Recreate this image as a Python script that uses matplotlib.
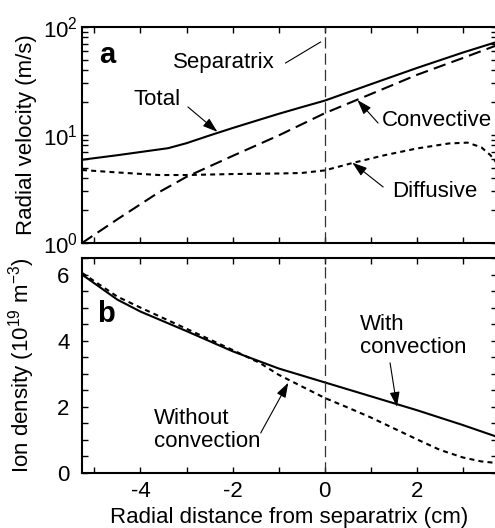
import numpy as np
import matplotlib
matplotlib.use('Agg')
import matplotlib.pyplot as plt
from matplotlib.ticker import MultipleLocator, LogLocator, NullFormatter

plt.rcParams['font.family'] = ['Liberation Sans', 'DejaVu Sans']
plt.rcParams['mathtext.fontset'] = 'custom'
plt.rcParams['mathtext.rm'] = 'Liberation Sans'
plt.rcParams['mathtext.it'] = 'Liberation Sans:italic'
plt.rcParams['mathtext.bf'] = 'Liberation Sans:bold'
plt.rcParams['font.size'] = 16

# radial distance from separatrix (cm), panel a
x_total = [-5.27, -4.5, -3.8, -3.4, -3.0, -2.5, -2.0, -1.5, -1.0, -0.5, 0.0, 1.0, 2.0, 3.0, 3.75]
v_total = [5.9, 6.5, 7.15, 7.55, 8.4, 9.9, 11.6, 13.5, 15.7, 18.1, 20.8, 29.5, 41.7, 58.0, 73.0]

x_conv = [-5.27, -4.5, -3.6, -3.0, -2.0, -1.0, 0.0, 1.0, 2.0, 3.0, 3.75]
v_conv = [1.0, 1.66, 2.95, 4.1, 6.4, 9.9, 15.9, 23.9, 36.0, 51.6, 68.0]

x_diff = [-5.27, -4.5, -3.6, -3.0, -2.0, -1.0, -0.5, 0.0, 0.6, 1.3, 2.0, 2.7, 3.1, 3.4, 3.6, 3.75]
v_diff = [4.74, 4.5, 4.26, 4.26, 4.35, 4.4, 4.45, 4.7, 5.5, 6.5, 7.5, 8.35, 8.5, 7.7, 6.5, 5.4]

# panel b: ion density (1e19 m^-3)
x_with = [-5.27, -4.5, -4.0, -3.0, -2.0, -1.0, 0.0, 1.0, 2.0, 3.0, 3.75]
n_with = [6.0, 5.24, 4.88, 4.29, 3.68, 3.16, 2.74, 2.32, 1.9, 1.45, 1.09]

x_without = [-5.27, -4.5, -4.0, -3.0, -2.0, -1.4, -1.0, 0.0, 0.5, 1.0, 1.5, 2.0, 2.5, 3.0, 3.4, 3.75]
n_without = [6.05, 5.33, 5.0, 4.36, 3.72, 3.32, 2.97, 2.27, 1.98, 1.68, 1.35, 1.02, 0.7, 0.47, 0.35, 0.3]

XLIM = (-5.27, 3.742)


def style_axis(ax):
    """ inward ticks on every side, thick frame """
    for sp in ax.spines.values():
        sp.set_linewidth(1.5)
    ax.tick_params(which='both', direction='in', top=True, right=True,
                   length=4, width=1)
    ax.xaxis.set_major_locator(MultipleLocator(2))
    ax.xaxis.set_minor_locator(MultipleLocator(1))
    ax.set_xlim(*XLIM)


def arrow(ax, head, tail):
    ax.annotate('', xy=head, xytext=tail,
                arrowprops=dict(arrowstyle='-|>,head_length=0.9,head_width=0.3',
                                mutation_scale=10, lw=0.8, color='black',
                                shrinkA=0, shrinkB=0))


def plot_velocity(fig):
    ax = fig.add_axes([82 / 495, 1 - 243 / 528, 415 / 495, 216 / 528])
    style_axis(ax)

    ax.plot(x_total, v_total, color='black', lw=1.5)
    ax.plot(x_conv, v_conv, color='black', lw=1.5, dashes=(6, 3))
    ax.plot(x_diff, v_diff, color='black', lw=1.5, dashes=(2.4, 2))
    ax.axvline(0, color='#333333', lw=0.9, dashes=(9, 4))

    ax.set_yscale('log')
    ax.set_ylim(1, 100)
    ax.yaxis.set_minor_locator(LogLocator(base=10, subs=np.arange(2, 10)))
    ax.yaxis.set_minor_formatter(NullFormatter())
    ax.tick_params(axis='y', which='major', pad=3)
    ax.set_xticklabels([])
    ax.set_ylabel('Radial velocity (m/s)')
    ax.yaxis.set_label_coords(-0.108, 0.5)

    # labels and arrows
    ax.text(-4.73, 55, 'a', fontsize=21, fontweight='bold', ha='center', va='center')
    ax.text(-2.18, 47.4, 'Separatrix', ha='center', va='center')
    ax.plot([-0.85, -0.09], [46.4, 72.6], color='black', lw=0.8)
    ax.text(-3.63, 21.1, 'Total', ha='center', va='center')
    arrow(ax, (-2.33, 10.7), (-2.97, 18.2))
    ax.text(2.44, 13.5, 'Convective', ha='center', va='center')
    arrow(ax, (0.71, 21.1), (1.16, 12.9))
    ax.text(2.40, 2.97, 'Diffusive', ha='center', va='center')
    arrow(ax, (0.6, 5.55), (1.27, 3.3))
    return ax


def plot_density(fig):
    ax = fig.add_axes([82 / 495, 1 - 473 / 528, 415 / 495, 215 / 528])
    style_axis(ax)

    ax.plot(x_with, n_with, color='black', lw=1.5)
    ax.plot(x_without, n_without, color='black', lw=1.5, dashes=(2.4, 2))
    ax.axvline(0, color='#333333', lw=0.9, dashes=(9, 4))

    ax.set_ylim(0, 6.5)
    ax.yaxis.set_major_locator(MultipleLocator(2))
    ax.yaxis.set_minor_locator(MultipleLocator(0.5))
    ax.tick_params(axis='y', which='major', pad=9)
    ax.tick_params(axis='x', which='major', pad=6)
    ax.set_xticklabels([f'{t:g}' for t in ax.get_xticks()])
    ax.set_ylabel(r'Ion density (10$^{\mathregular{19}}$ m$^{\mathregular{-3}}$)')
    ax.yaxis.set_label_coords(-0.108, 0.5)
    ax.set_xlabel('Radial distance from separatrix (cm)', labelpad=3)

    ax.text(-4.75, 4.82, 'b', fontsize=21, fontweight='bold', ha='center', va='center')
    ax.text(-3.71, 1.30, 'Without\nconvection', ha='left', va='center',
            multialignment='left', linespacing=1.15)
    arrow(ax, (-0.79, 2.73), (-1.39, 1.21))
    ax.text(0.77, 4.15, 'With\nconvection', ha='left', va='center',
            multialignment='left', linespacing=1.15)
    arrow(ax, (1.57, 2.0), (1.42, 3.33))
    return ax


def main():
    fig = plt.figure(figsize=(4.95, 5.28), dpi=100)
    plot_velocity(fig)
    plot_density(fig)
    fig.savefig('out.png', dpi=100)


if __name__ == '__main__':
    main()
